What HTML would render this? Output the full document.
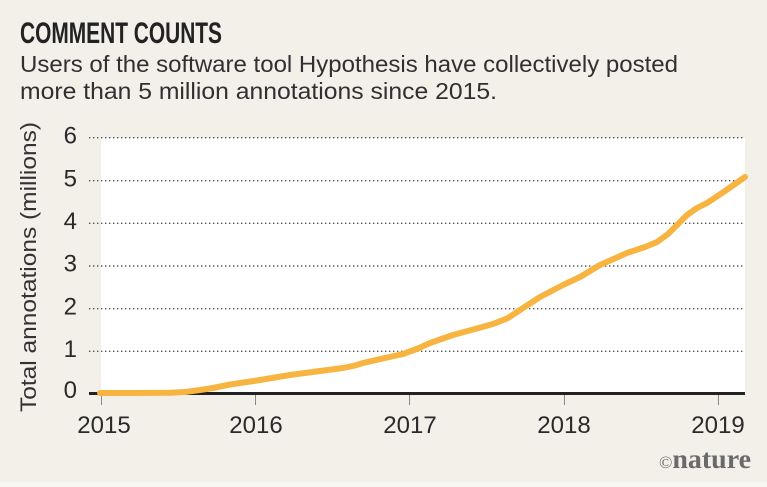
<!DOCTYPE html>
<html>
<head>
<meta charset="utf-8">
<style>
  html,body{margin:0;padding:0;background:#f3f0ea;}
  svg{display:block;}
  text{font-family:"Liberation Sans",sans-serif;fill:#2a2a2a;}
</style>
</head>
<body>
<svg width="767" height="487" viewBox="0 0 767 487" xmlns="http://www.w3.org/2000/svg">
  <rect x="0" y="0" width="767" height="487" fill="#f3f0ea"/>
  <rect x="0" y="482" width="767" height="5" fill="#f8f6f2"/>

  <!-- Title -->
  <text x="20" y="43" font-size="30" font-weight="bold" textLength="202" lengthAdjust="spacingAndGlyphs" style="font-family:'Liberation Sans Narrow','Liberation Sans',sans-serif;fill:#222;">COMMENT COUNTS</text>
  <text x="20" y="72" font-size="23" textLength="658" lengthAdjust="spacingAndGlyphs" style="fill:#303030;">Users of the software tool Hypothesis have collectively posted</text>
  <text x="20" y="99" font-size="23" textLength="477" lengthAdjust="spacingAndGlyphs" style="fill:#303030;">more than 5 million annotations since 2015.</text>

  <!-- plot area -->
  <rect x="101" y="138" width="644" height="255" fill="#ffffff"/>

  <!-- gridlines -->
  <g stroke="#555" stroke-width="1.4" stroke-dasharray="1.4 2.6">
    <line x1="89" y1="137.7" x2="745" y2="137.7"/>
    <line x1="89" y1="180.7" x2="745" y2="180.7"/>
    <line x1="89" y1="223.3" x2="745" y2="223.3"/>
    <line x1="89" y1="266" x2="745" y2="266"/>
    <line x1="89" y1="308.7" x2="745" y2="308.7"/>
    <line x1="89" y1="351.3" x2="745" y2="351.3"/>
  </g>

  <!-- x ticks -->
  <g stroke="#888" stroke-width="1">
    <line x1="101.5" y1="393" x2="101.5" y2="405"/>
    <line x1="255.5" y1="393" x2="255.5" y2="405"/>
    <line x1="409.5" y1="393" x2="409.5" y2="405"/>
    <line x1="564.5" y1="393" x2="564.5" y2="405"/>
    <line x1="718.5" y1="393" x2="718.5" y2="405"/>
  </g>

  <!-- baseline -->
  <line x1="89" y1="393.5" x2="745" y2="393.5" stroke="#222" stroke-width="3"/>

  <!-- y tick labels -->
  <g font-size="24" text-anchor="end">
    <text x="77" y="143.5">6</text>
    <text x="77" y="186.5">5</text>
    <text x="77" y="229">4</text>
    <text x="77" y="271.5">3</text>
    <text x="77" y="314.5">2</text>
    <text x="77" y="357">1</text>
    <text x="77" y="398">0</text>
  </g>

  <!-- x tick labels -->
  <g font-size="24" text-anchor="middle">
    <text x="104" y="433">2015</text>
    <text x="256" y="433">2016</text>
    <text x="410" y="433">2017</text>
    <text x="564" y="433">2018</text>
    <text x="718" y="433">2019</text>
  </g>

  <!-- y axis label -->
  <text x="0" y="0" font-size="22" text-anchor="middle" textLength="290" lengthAdjust="spacingAndGlyphs" transform="translate(36,267) rotate(-90)" style="fill:#333;">Total annotations (millions)</text>

  <!-- data line -->
  <polyline fill="none" stroke="#f8b440" stroke-width="6" stroke-linecap="round" stroke-linejoin="round"
    points="100,393 140,393 170,392.8 185,392 200,390 213,388 230,384.5 257,380.5 290,375 320,371 343,368 355,365.5 363,363 385,358 403,354 418,348.5 430,343 453,335 475,329 493,324 508,318 520,310 540,297 563,285 580,277 600,265 627,253 645,247 657,242 668,234 677,225 687,215 697,208 707,203 725,191 745,177"/>

  <!-- nature logo -->
  <text x="659" y="468" textLength="92" lengthAdjust="spacingAndGlyphs" style="font-family:'Liberation Serif',serif;fill:#6a6a6a;"><tspan font-size="17">©</tspan><tspan font-size="27" font-weight="bold">nature</tspan></text>
</svg>
</body>
</html>
